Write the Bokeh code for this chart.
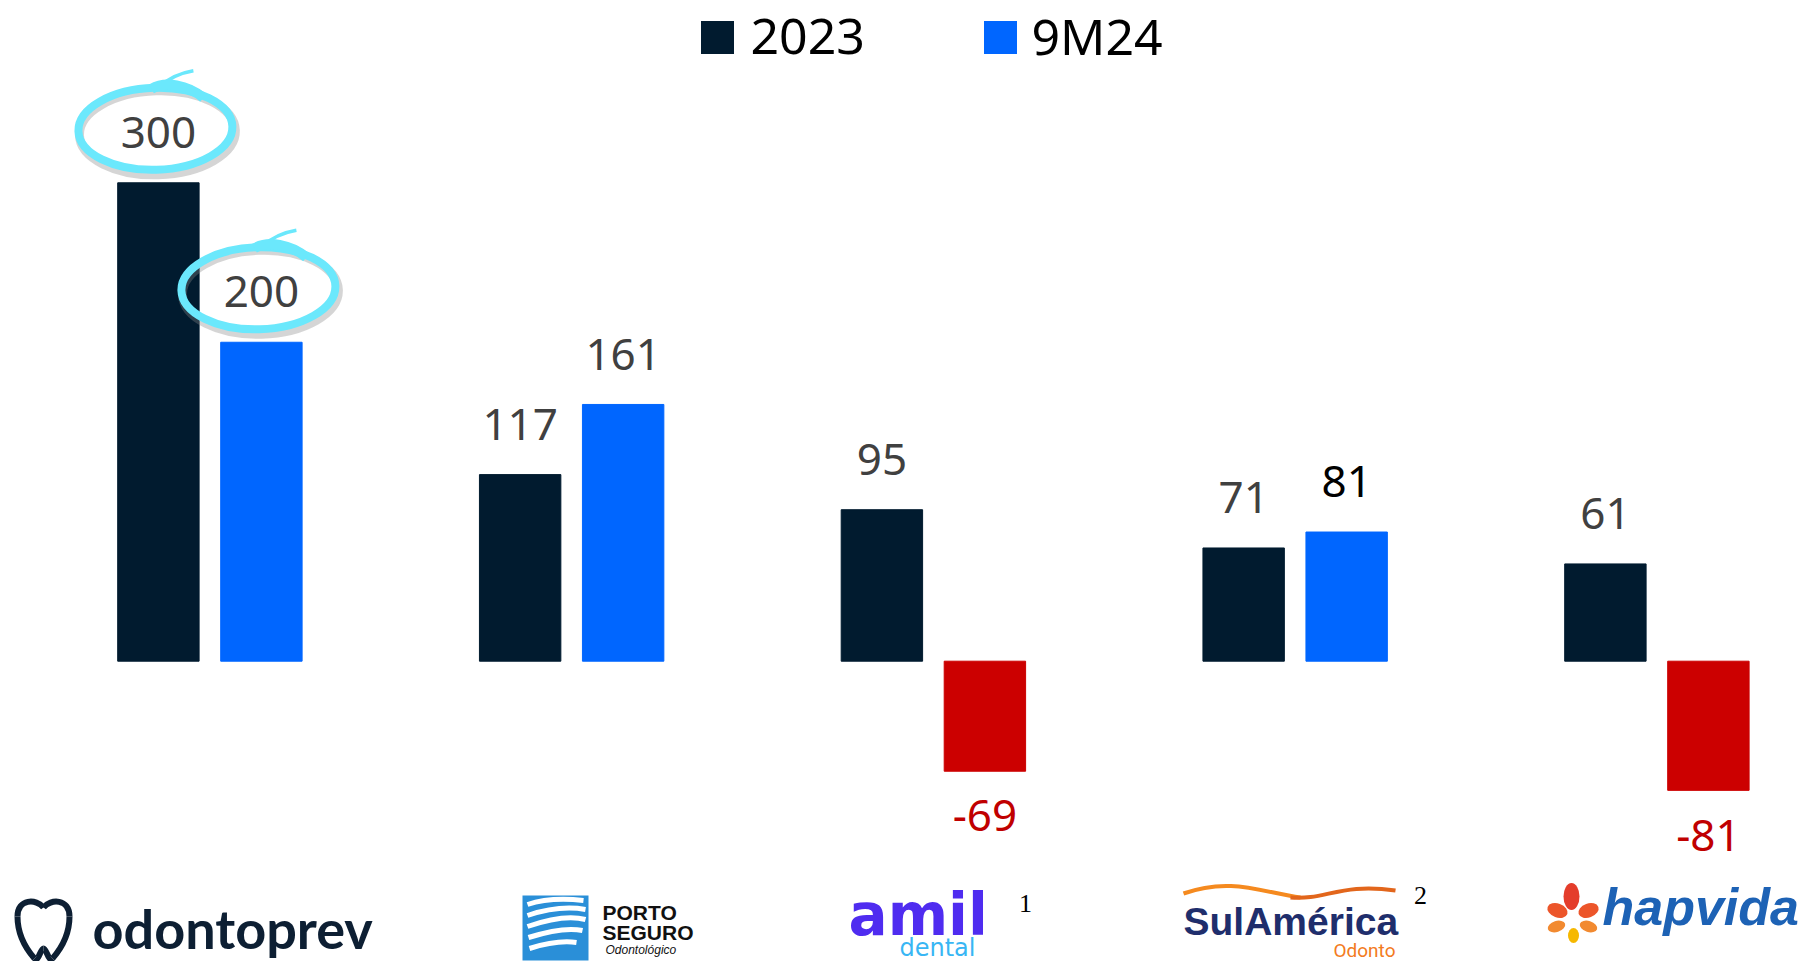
from bokeh.plotting import figure
from bokeh.models import Range1d
from bokeh.embed import file_html
from bokeh.resources import INLINE
from bokeh.core.properties import value

# ---------------- data ----------------
companies = ["Odontoprev", "Porto Seguro", "Amil Dental", "SulAmérica Odonto", "Hapvida"]
series = ["2023", "9M24"]
values_2023 = [300, 117, 95, 71, 61]
values_9m24 = [200, 161, -69, 81, -81]
highlighted = [(0, "2023"), (0, "9M24")]   # circled values

# ---------------- styles / geometry ----------------
C_2023 = "#011B2F"
C_9M24 = "#0066FF"
C_NEG = "#CC0000"
C_LABEL = "#404040"
C_LABEL_NEG = "#C00000"
C_CIRCLE = "#6BE8FC"

W, H = 1804, 961
ORIGIN_X, ORIGIN_Y = 0, 0
G0_PX = 209.4                      # pixel x of first group center
PITCH = 361.75                     # pixels per group
BASE_PX = 660.7                    # pixel y of zero
PPU = 1.5947                       # pixels per value unit
BAR_W = 81.4 / PITCH
OFF = 51.5 / PITCH
TXT_K = 0.37                       # baseline correction (fraction of font size)


def fx(px):
    return (px - G0_PX) / PITCH


def fy(py):
    return (BASE_PX - py) / PPU


def ty(py, size):
    """data y for a text whose alphabetic baseline should sit at pixel py"""
    return fy(py - TXT_K * size)


p = figure(width=W, height=H,
           x_range=Range1d(fx(ORIGIN_X), fx(ORIGIN_X + W)),
           y_range=Range1d(fy(ORIGIN_Y + H), fy(ORIGIN_Y)),
           output_backend="svg", toolbar_location=None,
           x_axis_type=None, y_axis_type=None, min_border=0,
           outline_line_color=None, background_fill_color="white",
           border_fill_color="white")

idx = list(range(len(companies)))
x23 = [i - OFF for i in idx]
x24 = [i + OFF for i in idx]
col24 = [C_9M24 if v >= 0 else C_NEG for v in values_9m24]

p.vbar(x=x23, top=values_2023, bottom=0, width=BAR_W, fill_color=C_2023, line_color=C_2023)
p.vbar(x=x24, top=values_9m24, bottom=0, width=BAR_W, fill_color=col24, line_color=col24)

# ---------------- value labels ----------------
LAB_FS = 44
above = (34 + TXT_K * LAB_FS) / PPU
below = (61 - TXT_K * LAB_FS) / PPU


def lab_y(v):
    return v + above if v >= 0 else v - below


lx, ly, lt, lc = [], [], [], []
for i in idx:
    v = values_2023[i]
    lx.append(x23[i]); ly.append(lab_y(v)); lt.append(str(v))
    lc.append(C_LABEL if v >= 0 else C_LABEL_NEG)
    v = values_9m24[i]
    lx.append(x24[i]); ly.append(lab_y(v)); lt.append(str(v))
    if v < 0:
        lc.append(C_LABEL_NEG)
    elif companies[i].startswith("SulAm"):
        lc.append("#000000")
    else:
        lc.append(C_LABEL)

# ---------------- highlight circles ----------------
for (gi, s) in highlighted:
    v = values_2023[gi] if s == "2023" else values_9m24[gi]
    bx = x23[gi] if s == "2023" else x24[gi]
    cx = bx + (-3) / PITCH
    cy = v + 54 / PPU
    # shadow
    p.ellipse(x=[cx + 2 / PITCH], y=[cy - 4 / PPU], width=[156], height=[84],
              width_units="screen", height_units="screen", angle=0.03,
              fill_color=None, line_color="#888888", line_alpha=0.35, line_width=9)
    p.ellipse(x=[cx], y=[cy], width=[154], height=[82],
              width_units="screen", height_units="screen", angle=0.03,
              fill_color=None, line_color=C_CIRCLE, line_width=8)
    # tail
    p.bezier(x0=[cx + 4 / PITCH], y0=[cy + 42 / PPU],
             x1=[cx + 38 / PITCH], y1=[cy + 58 / PPU],
             cx0=[cx + 14 / PITCH], cy0=[cy + 51 / PPU],
             cx1=[cx + 26 / PITCH], cy1=[cy + 56 / PPU],
             line_color=C_CIRCLE, line_width=3.5)
    p.bezier(x0=[cx - 4 / PITCH], y0=[cy + 40 / PPU],
             x1=[cx + 48 / PITCH], y1=[cy + 31 / PPU],
             cx0=[cx + 10 / PITCH], cy0=[cy + 48 / PPU],
             cx1=[cx + 32 / PITCH], cy1=[cy + 44 / PPU],
             line_color=C_CIRCLE, line_width=10)

p.text(x=lx, y=ly, text=lt, text_color=lc, text_font=value("Noto Sans"),
       text_font_size=f"{LAB_FS}px", text_align="center", text_baseline="alphabetic")

# ---------------- legend ----------------
LEG_FS = 50
leg_sq_x = [717, 1000]
leg_tx_x = [750, 1031]
p.scatter(x=[fx(v) for v in leg_sq_x], y=[fy(37)] * 2, marker="square", size=33,
          fill_color=[C_2023, C_9M24], line_color=None)
p.text(x=[fx(v) for v in leg_tx_x], y=[ty(54, LEG_FS)] * 2, text=series,
       text_color="#000000", text_font=value("Noto Sans"), text_font_size=f"{LEG_FS}px",
       text_align="left", text_baseline="alphabetic")

# ---------------- company logos (approximated) ----------------
# odontoprev tooth icon
NAVY = "#0D1F33"
segs = [
    ((43, 907), (36, 898), (17, 898), (17, 916)),
    ((17, 916), (17, 935), (27, 950), (34, 958)),
    ((34, 958), (38, 962), (40, 948), (43, 948)),
    ((43, 948), (46, 948), (48, 962), (52, 958)),
    ((52, 958), (59, 950), (69, 935), (69, 916)),
    ((69, 916), (69, 898), (50, 898), (43, 907)),
]
p.bezier(x0=[fx(s[0][0]) for s in segs], y0=[fy(s[0][1]) for s in segs],
         cx0=[fx(s[1][0]) for s in segs], cy0=[fy(s[1][1]) for s in segs],
         cx1=[fx(s[2][0]) for s in segs], cy1=[fy(s[2][1]) for s in segs],
         x1=[fx(s[3][0]) for s in segs], y1=[fy(s[3][1]) for s in segs],
         line_color=NAVY, line_width=6)
p.text(x=[fx(92)], y=[ty(948, 54)], text=["odontoprev"], text_color=NAVY,
       text_font=value("Lato"), text_font_style="bold", text_font_size="54px",
       text_baseline="alphabetic")

# Porto Seguro
p.rect(x=[fx(555)], y=[fy(927.5)], width=[66], height=[65], width_units="screen",
       height_units="screen", fill_color="#2A8FD8", line_color=None)
stripes = [
    ((527, 904), (545, 898), (565, 898), (583, 900)),
    ((527, 915), (548, 908), (568, 906), (585, 909)),
    ((527, 926), (550, 918), (570, 915), (585, 919)),
    ((528, 937), (550, 930), (568, 927), (582, 930)),
    ((529, 948), (548, 942), (562, 940), (576, 942)),
]
p.bezier(x0=[fx(s[0][0]) for s in stripes], y0=[fy(s[0][1]) for s in stripes],
         cx0=[fx(s[1][0]) for s in stripes], cy0=[fy(s[1][1]) for s in stripes],
         cx1=[fx(s[2][0]) for s in stripes], cy1=[fy(s[2][1]) for s in stripes],
         x1=[fx(s[3][0]) for s in stripes], y1=[fy(s[3][1]) for s in stripes],
         line_color="white", line_width=5)
p.text(x=[fx(602), fx(602)], y=[ty(920, 21), ty(940, 21)], text=["PORTO", "SEGURO"],
       text_color="#111111", text_font=value("Liberation Sans"), text_font_style="bold",
       text_font_size="21px", text_baseline="alphabetic")
p.text(x=[fx(605)], y=[ty(954, 12)], text=["Odontológico"], text_color="#111111",
       text_font=value("Liberation Sans"), text_font_style="italic",
       text_font_size="12px", text_baseline="alphabetic")

# amil dental
p.text(x=[fx(848)], y=[ty(936, 58)], text=["amil"], text_color="#4F2CF0",
       text_font=value("DejaVu Sans"), text_font_style="bold", text_font_size="58px",
       text_baseline="alphabetic")
p.text(x=[fx(899)], y=[ty(956, 24)], text=["dental"], text_color="#38B6F4",
       text_font=value("DejaVu Sans"), text_font_size="24px", text_baseline="alphabetic")

# SulAmérica
p.bezier(x0=[fx(1183)], y0=[fy(893)], cx0=[fx(1230)], cy0=[fy(876)],
         cx1=[fx(1262)], cy1=[fy(892)], x1=[fx(1300)], y1=[fy(897)],
         line_color="#F58A1F", line_width=4)
p.bezier(x0=[fx(1290)], y0=[fy(897)], cx0=[fx(1325)], cy0=[fy(900)],
         cx1=[fx(1340)], cy1=[fy(882)], x1=[fx(1395)], y1=[fy(890)],
         line_color="#E2661C", line_width=4)
p.text(x=[fx(1183)], y=[ty(935, 39)], text=["SulAmérica"], text_color="#1F2E6C",
       text_font=value("Liberation Sans"), text_font_style="bold", text_font_size="39px",
       text_baseline="alphabetic")
p.text(x=[fx(1333)], y=[ty(957, 19)], text=["Odonto"], text_color="#F37B21",
       text_font=value("Roboto"), text_font_size="19px", text_baseline="alphabetic")

# footnote markers
p.text(x=[fx(1025), fx(1420)], y=[ty(913, 26), ty(905, 26)], text=["1", "2"],
       text_color="#000000", text_font=value("Liberation Serif"), text_font_size="26px",
       text_align="center", text_baseline="alphabetic")

# Hapvida flower + text
petals_x = [1571, 1557, 1588, 1556, 1588, 1573]
petals_y = [896, 910, 910, 926, 926, 935]
petals_w = [16, 21, 21, 18, 18, 11]
petals_h = [27, 14, 14, 11, 11, 15]
petals_a = [0, -0.35, 0.35, 0.3, -0.3, 0]
petals_c = ["#E43D2B", "#EC552A", "#EC552A", "#F28A30", "#F28A30", "#F6B800"]
p.ellipse(x=[fx(v) for v in petals_x], y=[fy(v) for v in petals_y],
          width=petals_w, height=petals_h, width_units="screen", height_units="screen",
          angle=petals_a, fill_color=petals_c, line_color=None)
p.text(x=[fx(1602)], y=[ty(926, 52)], text=["hapvida"], text_color="#1D62B5",
       text_font=value("Liberation Sans"), text_font_style="bold italic",
       text_font_size="52px", text_baseline="alphabetic")

open("out.html", "w").write(file_html(p, INLINE))
